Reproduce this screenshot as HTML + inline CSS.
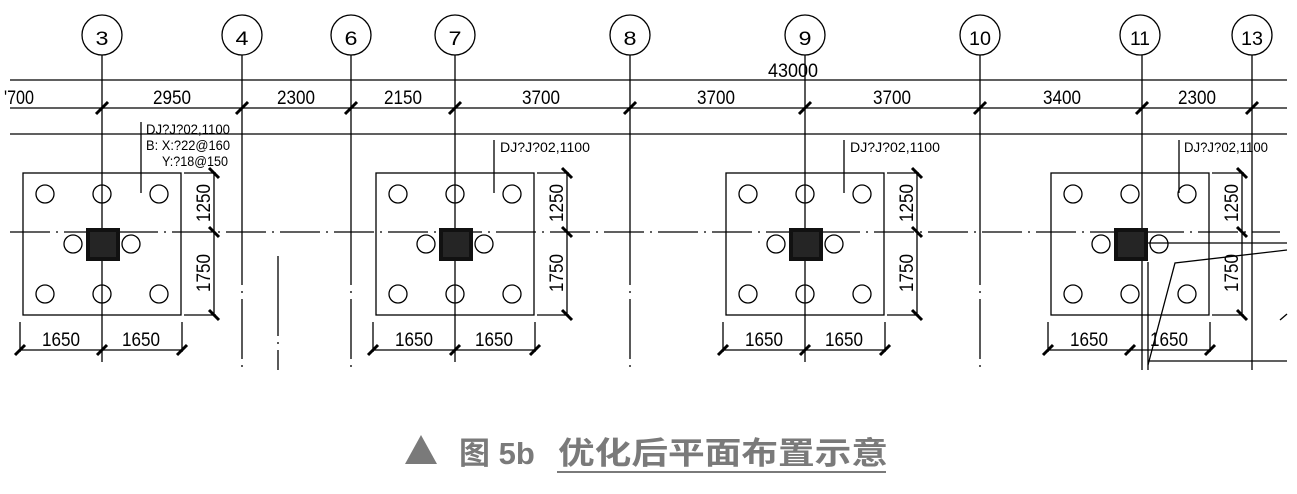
<!DOCTYPE html>
<html><head><meta charset="utf-8"><style>
html,body{margin:0;padding:0;background:#fff;}
svg{display:block}
.t{font-family:"Liberation Sans",sans-serif;font-size:19px;fill:#000}
.s{font-family:"Liberation Sans",sans-serif;font-size:14px;fill:#000}
</style></head><body>
<svg width="1297" height="494" viewBox="0 0 1297 494" xmlns="http://www.w3.org/2000/svg">
<g stroke="#000" stroke-width="1.3" fill="none">
<line x1="10" y1="80" x2="1287" y2="80"/>
<line x1="10" y1="108" x2="1287" y2="108"/>
<line x1="10" y1="134" x2="1287" y2="134"/>
<line x1="10" y1="232" x2="1280" y2="232" stroke-dasharray="40,6,2,6"/>
<g>
<circle cx="102" cy="35" r="20"/><line x1="102" y1="55" x2="102" y2="362"/>
<circle cx="242" cy="35" r="20"/><line x1="242" y1="55" x2="242" y2="370" stroke-dasharray="230,6,2,6,60,6,2,6"/>
<circle cx="351" cy="35" r="20"/><line x1="351" y1="55" x2="351" y2="370" stroke-dasharray="230,6,2,6,60,6,2,6"/>
<circle cx="455" cy="35" r="20"/><line x1="455" y1="55" x2="455" y2="362"/>
<circle cx="630" cy="35" r="20"/><line x1="630" y1="55" x2="630" y2="370" stroke-dasharray="230,6,2,6,60,6,2,6"/>
<circle cx="805" cy="35" r="20"/><line x1="805" y1="55" x2="805" y2="362"/>
<circle cx="980" cy="35" r="20"/><line x1="980" y1="55" x2="980" y2="370" stroke-dasharray="230,6,2,6,60,6,2,6"/>
<circle cx="1140" cy="35" r="20"/><line x1="1142" y1="55" x2="1142" y2="370"/>
<circle cx="1252" cy="35" r="20"/><line x1="1252" y1="55" x2="1252" y2="370"/>
<line x1="278" y1="256" x2="278" y2="370" stroke-dasharray="80,6,2,6"/>
</g>
<g stroke-width="3">
<line x1="96" y1="114" x2="108" y2="102"/><line x1="236" y1="114" x2="248" y2="102"/>
<line x1="345" y1="114" x2="357" y2="102"/><line x1="449" y1="114" x2="461" y2="102"/>
<line x1="624" y1="114" x2="636" y2="102"/><line x1="799" y1="114" x2="811" y2="102"/>
<line x1="974" y1="114" x2="986" y2="102"/><line x1="1136" y1="114" x2="1148" y2="102"/>
<line x1="1246" y1="114" x2="1258" y2="102"/>
</g>
<line x1="1148" y1="243" x2="1287" y2="243"/>
<line x1="1148" y1="262" x2="1148" y2="370"/>
<line x1="1148" y1="361" x2="1287" y2="361"/>
<polyline points="1148,365 1175,263 1287,250"/>
<line x1="1280" y1="320" x2="1287" y2="314"/>
</g>
<g class="t">
<text x="768" y="77" textLength="50" lengthAdjust="spacingAndGlyphs">43000</text>
<text x="4" y="104" textLength="30" lengthAdjust="spacingAndGlyphs">'700</text>
<text x="153" y="104" textLength="38" lengthAdjust="spacingAndGlyphs">2950</text>
<text x="277" y="104" textLength="38" lengthAdjust="spacingAndGlyphs">2300</text>
<text x="384" y="104" textLength="38" lengthAdjust="spacingAndGlyphs">2150</text>
<text x="522" y="104" textLength="38" lengthAdjust="spacingAndGlyphs">3700</text>
<text x="697" y="104" textLength="38" lengthAdjust="spacingAndGlyphs">3700</text>
<text x="873" y="104" textLength="38" lengthAdjust="spacingAndGlyphs">3700</text>
<text x="1043" y="104" textLength="38" lengthAdjust="spacingAndGlyphs">3400</text>
<text x="1178" y="104" textLength="38" lengthAdjust="spacingAndGlyphs">2300</text>
</g>
<g class="t" font-size="27" text-anchor="middle">
<text x="102" y="45" textLength="13" lengthAdjust="spacingAndGlyphs">3</text>
<text x="242" y="45" textLength="13" lengthAdjust="spacingAndGlyphs">4</text>
<text x="351" y="45" textLength="13" lengthAdjust="spacingAndGlyphs">6</text>
<text x="455" y="45" textLength="13" lengthAdjust="spacingAndGlyphs">7</text>
<text x="630" y="45" textLength="13" lengthAdjust="spacingAndGlyphs">8</text>
<text x="805" y="45" textLength="13" lengthAdjust="spacingAndGlyphs">9</text>
<text x="980" y="45" textLength="22" lengthAdjust="spacingAndGlyphs">10</text>
<text x="1140" y="45" textLength="20" lengthAdjust="spacingAndGlyphs">11</text>
<text x="1252" y="45" textLength="22" lengthAdjust="spacingAndGlyphs">13</text>
</g>

<defs>
<g id="ft">
<g stroke="#000" stroke-width="1.3" fill="none">
<rect x="-79" y="173" width="158" height="142"/>
<circle cx="-57" cy="194" r="9"/><circle cx="0" cy="194" r="9"/><circle cx="57" cy="194" r="9"/>
<circle cx="-29" cy="244" r="9"/><circle cx="29" cy="244" r="9"/>
<circle cx="-57" cy="294" r="9"/><circle cx="0" cy="294" r="9"/><circle cx="57" cy="294" r="9"/>
<line x1="112" y1="173" x2="112" y2="315"/>
<line x1="82" y1="173" x2="114" y2="173"/><line x1="82" y1="315" x2="114" y2="315"/>
<line x1="-82" y1="350" x2="80" y2="350"/>
<line x1="-82" y1="322" x2="-82" y2="352"/><line x1="80" y1="322" x2="80" y2="352"/>
<g stroke-width="3">
<line x1="107" y1="168" x2="117" y2="178"/><line x1="107" y1="227" x2="117" y2="237"/><line x1="107" y1="310" x2="117" y2="320"/>
<line x1="-87" y1="355" x2="-77" y2="345"/><line x1="-5" y1="355" x2="5" y2="345"/><line x1="75" y1="355" x2="85" y2="345"/>
</g>
</g>
<rect x="-16" y="228" width="34" height="33" fill="#111"/>
<rect x="-12" y="232" width="26" height="25" fill="#444" opacity="0.4"/>
</g>
</defs>

<use href="#ft" x="102"/>
<use href="#ft" x="455"/>
<use href="#ft" x="805"/>
<use href="#ft" x="1130"/>

<g stroke="#000" stroke-width="1.3">
<line x1="141" y1="122" x2="141" y2="193"/>
<line x1="494" y1="140" x2="494" y2="193"/>
<line x1="844" y1="140" x2="844" y2="193"/>
<line x1="1179" y1="140" x2="1179" y2="193"/>
</g>
<g class="s">
<text x="146" y="134" textLength="84" lengthAdjust="spacingAndGlyphs">DJ?J?02,1100</text>
<text x="146" y="150" textLength="84" lengthAdjust="spacingAndGlyphs">B:  X:?22@160</text>
<text x="162" y="166" textLength="66" lengthAdjust="spacingAndGlyphs">Y:?18@150</text>
<text x="500" y="152" textLength="90" lengthAdjust="spacingAndGlyphs">DJ?J?02,1100</text>
<text x="850" y="152" textLength="90" lengthAdjust="spacingAndGlyphs">DJ?J?02,1100</text>
<text x="1184" y="152" textLength="84" lengthAdjust="spacingAndGlyphs">DJ?J?02,1100</text>
</g>

<g class="t">
<text x="42" y="346" textLength="38" lengthAdjust="spacingAndGlyphs">1650</text>
<text x="122" y="346" textLength="38" lengthAdjust="spacingAndGlyphs">1650</text>
<text x="395" y="346" textLength="38" lengthAdjust="spacingAndGlyphs">1650</text>
<text x="475" y="346" textLength="38" lengthAdjust="spacingAndGlyphs">1650</text>
<text x="745" y="346" textLength="38" lengthAdjust="spacingAndGlyphs">1650</text>
<text x="825" y="346" textLength="38" lengthAdjust="spacingAndGlyphs">1650</text>
<text x="1070" y="346" textLength="38" lengthAdjust="spacingAndGlyphs">1650</text>
<text x="1150" y="346" textLength="38" lengthAdjust="spacingAndGlyphs">1650</text>
</g>
<g class="t">
<text transform="translate(210,222) rotate(-90)" textLength="38" lengthAdjust="spacingAndGlyphs">1250</text>
<text transform="translate(210,292) rotate(-90)" textLength="38" lengthAdjust="spacingAndGlyphs">1750</text>
<text transform="translate(563,222) rotate(-90)" textLength="38" lengthAdjust="spacingAndGlyphs">1250</text>
<text transform="translate(563,292) rotate(-90)" textLength="38" lengthAdjust="spacingAndGlyphs">1750</text>
<text transform="translate(913,222) rotate(-90)" textLength="38" lengthAdjust="spacingAndGlyphs">1250</text>
<text transform="translate(913,292) rotate(-90)" textLength="38" lengthAdjust="spacingAndGlyphs">1750</text>
<text transform="translate(1238,222) rotate(-90)" textLength="38" lengthAdjust="spacingAndGlyphs">1250</text>
<text transform="translate(1238,292) rotate(-90)" textLength="38" lengthAdjust="spacingAndGlyphs">1750</text>
</g>

<polygon points="405,464 421,435 437,464" fill="#7a7a7a"/>
<text x="459" y="464" font-family="'Liberation Sans','Noto Sans CJK SC',sans-serif" font-weight="bold" font-size="31" fill="#7a7a7a">图 5b</text>
<text x="558" y="464" font-family="'Liberation Sans','Noto Sans CJK SC',sans-serif" font-weight="bold" font-size="31" fill="#7a7a7a" textLength="330" lengthAdjust="spacingAndGlyphs">优化后平面布置示意</text>
<rect x="557" y="471" width="329" height="2" fill="#7a7a7a"/>
</svg>
</body></html>
